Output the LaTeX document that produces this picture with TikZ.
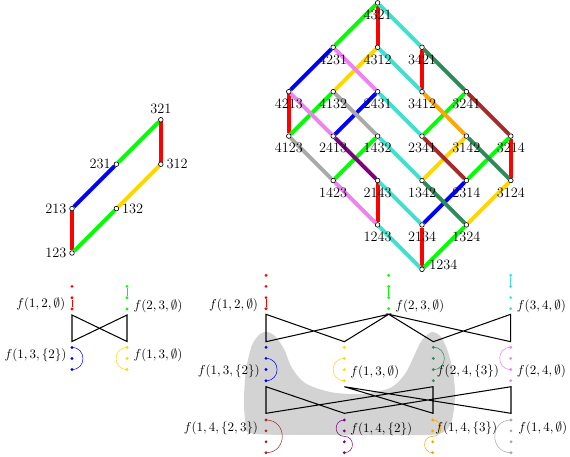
\documentclass[tikz,border=0pt]{standalone}
\usepackage{xcolor}
\usepackage{tikz}
\usetikzlibrary{calc,backgrounds}
\definecolor{red}{RGB}{255,0,0}
\definecolor{green}{RGB}{0,255,0}
\definecolor{blue}{RGB}{0,0,255}
\definecolor{turquoise}{RGB}{64,224,208}
\definecolor{gold}{RGB}{255,215,0}
\definecolor{seagreen}{RGB}{46,139,87}
\definecolor{violet}{RGB}{238,130,238}
\definecolor{brown}{RGB}{165,42,42}
\definecolor{purple}{RGB}{128,0,128}
\definecolor{orange}{RGB}{255,165,0}
\definecolor{darkgray}{RGB}{169,169,169}
\definecolor{blob}{RGB}{211,211,211}
\tikzset{
  perm/.style={circle,draw,fill=white,line width=0.5pt,inner sep=0pt,minimum size=3.6pt},
  lbl/.style={font=\fontsize{11}{13}\selectfont},
  cover/.style={draw=#1,line width=3pt},
  dot/.style={circle,fill=#1,inner sep=0pt,minimum size=2.4pt},
  link/.style={draw=#1,line width=0.4pt},
  tie/.style={draw=black,line width=0.8pt},
  flab/.style={inner sep=0pt},
}

\begin{document}
\begin{tikzpicture}[x=0.77pt,y=-0.77pt]
  \useasboundingbox (0,0) rectangle (570,456);

  % weak order on S3
  \begin{scope}[shift={(72,253)},x=34.19pt,y=34.19pt,label distance=-1.2pt]
    \node[perm,label={[lbl]left:123}] (q123) at (0,0) {};
    \node[perm,label={[lbl]left:213}] (q213) at (0,1) {};
    \node[perm,label={[lbl]right:132}] (q132) at (1,1) {};
    \node[perm,label distance=2.5pt,label={[lbl]left:231}] (q231) at (1,2) {};
    \node[perm,label={[lbl]right:312}] (q312) at (2,2) {};
    \node[perm,label={[lbl]above:321}] (q321) at (2,3) {};
  \end{scope}

  % weak order on S4
  \begin{scope}[shift={(422,269.3)},x=34.19pt,y=34.19pt]
    \node[perm,label distance=-0.5pt,label={[lbl,yshift=3.3pt]right:1234}] (p1234) at (0,0) {};
    \node[perm,label={[lbl]below:2134}] (p2134) at (0,1) {};
    \node[perm,label={[lbl]below:1324}] (p1324) at (1,1) {};
    \node[perm,label={[lbl]below:1243}] (p1243) at (-1,1) {};
    \node[perm,label={[lbl]below:2314}] (p2314) at (1,2) {};
    \node[perm,label={[lbl]below:3124}] (p3124) at (2,2) {};
    \node[perm,label={[lbl]below:2143}] (p2143) at (-1,2) {};
    \node[perm,label={[lbl]below:1342}] (p1342) at (0,2) {};
    \node[perm,label={[lbl]below:1423}] (p1423) at (-2,2) {};
    \node[perm,label={[lbl]below:3214}] (p3214) at (2,3) {};
    \node[perm,label={[lbl]below:2341}] (p2341) at (0,3) {};
    \node[perm,label={[lbl]below:3142}] (p3142) at (1,3) {};
    \node[perm,label={[lbl]below:2413}] (p2413) at (-2,3) {};
    \node[perm,label={[lbl]below:1432}] (p1432) at (-1,3) {};
    \node[perm,label={[lbl]below:4123}] (p4123) at (-3,3) {};
    \node[perm,label={[lbl]below:4213}] (p4213) at (-3,4) {};
    \node[perm,label={[lbl]below:4132}] (p4132) at (-2,4) {};
    \node[perm,label={[lbl]below:2431}] (p2431) at (-1,4) {};
    \node[perm,label={[lbl]below:3412}] (p3412) at (0,4) {};
    \node[perm,label={[lbl]below:3241}] (p3241) at (1,4) {};
    \node[perm,label={[lbl]below:4231}] (p4231) at (-2,5) {};
    \node[perm,label={[lbl]below:4312}] (p4312) at (-1,5) {};
    \node[perm,label={[lbl]below:3421}] (p3421) at (0,5) {};
    \node[perm,label={[lbl]below:4321}] (p4321) at (-1,6) {};
  \end{scope}

  \begin{scope}[on background layer]
    \fill[blob] plot[smooth cycle] coordinates {(255,434) (246,425) (244,400) (246,370)
      (252,345) (260,334) (267,332) (275,336) (284,349) (292,368) (305,383) (330,392)
      (360,394) (390,388) (405,374) (414,356) (422,340) (432,332) (441,337) (448,352)
      (453,372) (455,395) (452,420) (444,432) (425,435) (340,435)};

    \draw[cover=red] (q123) -- (q213);
    \draw[cover=green] (q123) -- (q132);
    \draw[cover=blue] (q213) -- (q231);
    \draw[cover=gold] (q132) -- (q312);
    \draw[cover=green] (q231) -- (q321);
    \draw[cover=red] (q312) -- (q321);

    \draw[cover=red] (p1234) -- (p2134);
    \draw[cover=red] (p1243) -- (p2143);
    \draw[cover=red] (p3124) -- (p3214);
    \draw[cover=red] (p4123) -- (p4213);
    \draw[cover=red] (p3412) -- (p3421);
    \draw[cover=red] (p4312) -- (p4321);
    \draw[cover=green] (p1234) -- (p1324);
    \draw[cover=green] (p2314) -- (p3214);
    \draw[cover=green] (p1423) -- (p1432);
    \draw[cover=green] (p2341) -- (p3241);
    \draw[cover=green] (p4123) -- (p4132);
    \draw[cover=green] (p4231) -- (p4321);
    \draw[cover=turquoise] (p1234) -- (p1243);
    \draw[cover=turquoise] (p2134) -- (p2143);
    \draw[cover=turquoise] (p1342) -- (p1432);
    \draw[cover=turquoise] (p2341) -- (p2431);
    \draw[cover=turquoise] (p3412) -- (p4312);
    \draw[cover=turquoise] (p3421) -- (p4321);
    \draw[cover=blue] (p2134) -- (p2314);
    \draw[cover=blue] (p2413) -- (p2431);
    \draw[cover=blue] (p4213) -- (p4231);
    \draw[cover=gold] (p1324) -- (p3124);
    \draw[cover=gold] (p1342) -- (p3142);
    \draw[cover=gold] (p4132) -- (p4312);
    \draw[cover=seagreen] (p1324) -- (p1342);
    \draw[cover=seagreen] (p3124) -- (p3142);
    \draw[cover=seagreen] (p3241) -- (p3421);
    \draw[cover=violet] (p1243) -- (p1423);
    \draw[cover=violet] (p2413) -- (p4213);
    \draw[cover=violet] (p2431) -- (p4231);
    \draw[cover=brown] (p2314) -- (p2341);
    \draw[cover=brown] (p3214) -- (p3241);
    \draw[cover=purple] (p2143) -- (p2413);
    \draw[cover=orange] (p3142) -- (p3412);
    \draw[cover=darkgray] (p1423) -- (p4123);
    \draw[cover=darkgray] (p1432) -- (p4132);
  \end{scope}

  % arc diagrams for n=3
  \node[dot=red] (r1) at (72,309) {}; \node[dot=red] (r2) at (72,297.7) {}; \node[dot=red] (r3) at (72,286.4) {};
  \node[dot=green] (g1) at (127,309) {}; \node[dot=green] (g2) at (127,297.7) {}; \node[dot=green] (g3) at (127,286.4) {};
  \node[dot=blue] (b1) at (72,369.5) {}; \node[dot=blue] (b2) at (72,358.5) {}; \node[dot=blue] (b3) at (72,347.5) {};
  \node[dot=gold] (y1) at (127,369.5) {}; \node[dot=gold] (y2) at (127,358.5) {}; \node[dot=gold] (y3) at (127,347.5) {};

  \draw[link=red] (r1) -- (r2);
  \draw[link=green] (g2) -- (g3);
  \draw[link=blue] (b3.center) to[out=0,in=0,looseness=1.7] (b1.center);
  \draw[link=gold] (y3.center) to[out=180,in=180,looseness=1.7] (y1.center);

  \coordinate (s1) at (72,315); \coordinate (s2) at (127,315);
  \coordinate (s3) at (72,341.5); \coordinate (s4) at (127,341.5);
  \draw[tie] (s1) -- (s4) -- (s2) -- (s3) -- cycle;

  \node[flab,anchor=east] (l12) at (65.5,304.5) {$f(1,2,\emptyset)$};
  \node[flab,anchor=west] (l23) at (133.3,306) {$f(2,3,\emptyset)$};
  \node[flab,anchor=east] (l13a) at (66.7,355) {$f(1,3,\{2\})$};
  \node[flab,anchor=west] (l13b) at (133.3,355) {$f(1,3,\emptyset)$};

  % arc diagrams for n=4
  \node[dot=red] (R1) at (266,308.7) {}; \node[dot=red] (R2) at (266,297.6) {}; \node[dot=red] (R3) at (266,286.4) {}; \node[dot=red] (R4) at (266,275.3) {};
  \node[dot=green] (G1) at (388.7,308.7) {}; \node[dot=green] (G2) at (388.7,297.6) {}; \node[dot=green] (G3) at (388.7,286.4) {}; \node[dot=green] (G4) at (388.7,275.3) {};
  \node[dot=turquoise] (T1) at (510.7,308.7) {}; \node[dot=turquoise] (T2) at (510.7,297.6) {}; \node[dot=turquoise] (T3) at (510.7,286.4) {}; \node[dot=turquoise] (T4) at (510.7,275.3) {};
  \node[dot=blue] (B1) at (266,380.7) {}; \node[dot=blue] (B2) at (266,369.5) {}; \node[dot=blue] (B3) at (266,358.4) {}; \node[dot=blue] (B4) at (266,347.3) {};
  \node[dot=gold] (Y1) at (344.3,380.7) {}; \node[dot=gold] (Y2) at (344.3,369.5) {}; \node[dot=gold] (Y3) at (344.3,358.4) {}; \node[dot=gold] (Y4) at (344.3,347.3) {};
  \node[dot=seagreen] (S1) at (433.3,380.7) {}; \node[dot=seagreen] (S2) at (433.3,369.5) {}; \node[dot=seagreen] (S3) at (433.3,358.4) {}; \node[dot=seagreen] (S4) at (433.3,347.3) {};
  \node[dot=violet] (V1) at (510.7,380.7) {}; \node[dot=violet] (V2) at (510.7,369.5) {}; \node[dot=violet] (V3) at (510.7,358.4) {}; \node[dot=violet] (V4) at (510.7,347.3) {};
  \node[dot=brown] (N1) at (266,452.7) {}; \node[dot=brown] (N2) at (266,441.8) {}; \node[dot=brown] (N3) at (266,430.9) {}; \node[dot=brown] (N4) at (266,420) {};
  \node[dot=purple] (P1) at (344.3,452.7) {}; \node[dot=purple] (P2) at (344.3,441.8) {}; \node[dot=purple] (P3) at (344.3,430.9) {}; \node[dot=purple] (P4) at (344.3,420) {};
  \node[dot=orange] (O1) at (432.7,452.7) {}; \node[dot=orange] (O2) at (432.7,441.8) {}; \node[dot=orange] (O3) at (432.7,430.9) {}; \node[dot=orange] (O4) at (432.7,420) {};
  \node[dot=darkgray] (D1) at (511,452.7) {}; \node[dot=darkgray] (D2) at (511,441.8) {}; \node[dot=darkgray] (D3) at (511,430.9) {}; \node[dot=darkgray] (D4) at (511,420) {};

  \draw[link=red] (R1) -- (R2);
  \draw[link=green] (G2) -- (G3);
  \draw[link=turquoise] (T3) -- (T4);
  \draw[link=blue] (B3.center) to[out=0,in=0,looseness=1.7] (B1.center);
  \draw[link=gold] (Y3.center) to[out=180,in=180,looseness=1.7] (Y1.center);
  \draw[link=seagreen] (S4.center) to[out=0,in=0,looseness=1.7] (S2.center);
  \draw[link=violet] (V4.center) to[out=180,in=180,looseness=1.7] (V2.center);
  \draw[link=brown] (N4.center) to[out=0,in=0,looseness=1.7] (N1.center);
  \draw[link=purple] (P4.center) to[out=180,in=180,looseness=1.7] ($(P3)!0.5!(P2)$)
    to[out=0,in=0,looseness=1.7] (P1.center);
  \draw[link=orange] (O4.center) to[out=0,in=0,looseness=1.7] ($(O3)!0.5!(O2)$)
    to[out=180,in=180,looseness=1.7] (O1.center);
  \draw[link=darkgray] (D4.center) to[out=180,in=180,looseness=1.7] (D1.center);

  \coordinate (u1) at (266,314.3); \coordinate (u2) at (388.7,314.3); \coordinate (u3) at (510.7,314.3);
  \coordinate (w1) at (266,341.7); \coordinate (w2) at (344.3,341.7);
  \coordinate (w3) at (433.3,341.7); \coordinate (w4) at (510.7,341.7);
  \draw[tie] (u1) -- (w2) -- (u2) -- (w1) -- cycle;
  \draw[tie] (u2) -- (w4) -- (u3) -- (w3) -- cycle;

  \coordinate (m1) at (266,386.7); \coordinate (m2) at (344.3,386.7);
  \coordinate (m3) at (433,386.7); \coordinate (m4) at (511,386.7);
  \coordinate (n1) at (266,413.3); \coordinate (n2) at (344.3,413.3);
  \coordinate (n3) at (433,413.3); \coordinate (n4) at (511,413.3);
  \draw[tie] (m1) -- (n2) -- (m4) -- (n4) -- (m2) -- (n3) -- (m3) -- (n1) -- cycle;

  \node[flab,anchor=east] (L12) at (258.3,305) {$f(1,2,\emptyset)$};
  \node[flab,anchor=west] (L23) at (395,306) {$f(2,3,\emptyset)$};
  \node[flab,anchor=west] (L34) at (516.7,306) {$f(3,4,\emptyset)$};
  \node[flab,anchor=east] (L13a) at (260,371) {$f(1,3,\{2\})$};
  \node[flab,anchor=west] (L13b) at (350,372) {$f(1,3,\emptyset)$};
  \node[flab,anchor=west] (L24a) at (436.7,371) {$f(2,4,\{3\})$};
  \node[flab,anchor=west] (L24b) at (516.7,371) {$f(2,4,\emptyset)$};
  \node[flab,anchor=east] (L14a) at (258.3,428) {$f(1,4,\{2,3\})$};
  \node[flab,anchor=west] (L14b) at (350,429) {$f(1,4,\{2\})$};
  \node[flab,anchor=west] (L14c) at (435,428) {$f(1,4,\{3\})$};
  \node[flab,anchor=west] (L14d) at (518,428) {$f(1,4,\emptyset)$};
\end{tikzpicture}
\end{document}
